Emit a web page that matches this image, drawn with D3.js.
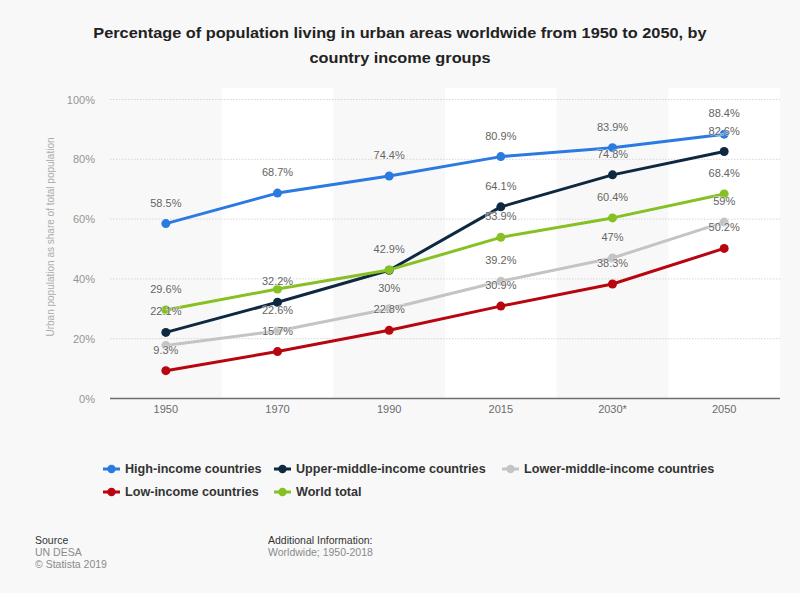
<!DOCTYPE html>
<html>
<head>
<meta charset="utf-8">
<script src="https://cdn.jsdelivr.net/npm/d3@7"></script>
<style>
  html, body { margin: 0; padding: 0; background: #f7f7f7; }
  svg { display: block; }
  text { font-family: "Liberation Sans", Arial, Helvetica, sans-serif; }
</style>
</head>
<body>
<svg id="chart" width="800" height="593"></svg>
<script>
const categories = ["1950", "1970", "1990", "2015", "2030*", "2050"];
const seriesNames = ["High-income countries", "Upper-middle-income countries", "Lower-middle-income countries", "Low-income countries", "World total"];
const highIncome = [58.5, 68.7, 74.4, 80.9, 83.9, 88.4];
const upperMiddleIncome = [22.1, 32.2, 42.9, 64.1, 74.8, 82.6];
const lowerMiddleIncome = [17.7, 22.6, 30, 39.2, 47, 59];
const lowIncome = [9.3, 15.7, 22.8, 30.9, 38.3, 50.2];
const worldTotal = [29.6, 36.6, 43, 53.9, 60.4, 68.4];
const yTicks = [0, 20, 40, 60, 80, 100];
// labels not shown in the original (hidden due to overlap)
const hiddenLabels = [["Lower-middle-income countries", "1950"], ["World total", "1970"], ["World total", "1990"]];

const seriesValues = [highIncome, upperMiddleIncome, lowerMiddleIncome, lowIncome, worldTotal];
const colors = ["#2a7ae2", "#0e2840", "#c4c4c4", "#b8050f", "#86c022"];

const svg = d3.select("#chart");
const W = 800, H = 593;
const plot = { left: 110, right: 780, top: 99.5, bottom: 398.5 };

svg.append("rect").attr("width", W).attr("height", H).attr("fill", "#f8f8f8");

const x = d3.scaleBand().domain(categories).range([plot.left, plot.right]).padding(0);
const y = d3.scaleLinear().domain([0, 100]).range([plot.bottom, plot.top]);

// alternating bands
svg.append("g").selectAll("rect")
  .data(categories.filter((d, i) => i % 2 === 1))
  .join("rect")
  .attr("x", d => x(d))
  .attr("y", 88)
  .attr("width", x.bandwidth())
  .attr("height", plot.bottom - 88)
  .attr("fill", "#ffffff");

// gridlines
svg.append("g").selectAll("line")
  .data(yTicks.filter(t => t > 0))
  .join("line")
  .attr("x1", plot.left).attr("x2", plot.right)
  .attr("y1", d => y(d)).attr("y2", d => y(d))
  .attr("stroke", "#d6d6d6").attr("stroke-width", 1)
  .attr("stroke-dasharray", "1.5,1.5");

// y axis labels
const yAxis = d3.axisLeft(y).tickValues(yTicks).tickFormat(d => d + "%").tickSize(0).tickPadding(0);
const yg = svg.append("g").attr("transform", `translate(95,0)`).call(yAxis);
yg.select(".domain").remove();
yg.selectAll("text").attr("fill", "#959595").attr("font-size", "11px")
  .attr("font-family", "Liberation Sans, Arial, sans-serif");

// x axis
const xAxis = d3.axisBottom(x).tickSize(0).tickPadding(0);
const xg = svg.append("g").attr("transform", `translate(0,${plot.bottom})`).call(xAxis);
xg.select(".domain").remove();
xg.selectAll("text").attr("fill", "#6b6b6b").attr("font-size", "11px").attr("dy", "1.35em")
  .attr("font-family", "Liberation Sans, Arial, sans-serif");

// baseline
svg.append("line")
  .attr("x1", plot.left).attr("x2", plot.right)
  .attr("y1", plot.bottom).attr("y2", plot.bottom)
  .attr("stroke", "#6e6e6e").attr("stroke-width", 1.6);

// y axis title
svg.append("text")
  .attr("transform", `translate(51,${(plot.top + plot.bottom) / 2 - 12}) rotate(-90)`)
  .attr("text-anchor", "middle")
  .attr("dominant-baseline", "middle")
  .attr("fill", "#ababab").attr("font-size", "10px")
  .text("Urban population as share of total population");

// lines
const cx = c => x(c) + x.bandwidth() / 2;
const line = d3.line().x((d, i) => cx(categories[i])).y(d => y(d));
const gLines = svg.append("g");
seriesValues.forEach((vals, si) => {
  const g = gLines.append("g");
  g.append("path").datum(vals).attr("d", line)
    .attr("fill", "none").attr("stroke", colors[si]).attr("stroke-width", 3)
    .attr("stroke-linejoin", "round").attr("stroke-linecap", "round");
  g.selectAll("circle").data(vals).join("circle")
    .attr("cx", (d, i) => cx(categories[i])).attr("cy", d => y(d))
    .attr("r", 4.5).attr("fill", colors[si]);
});

// data labels
const isHidden = (s, c) => hiddenLabels.some(h => h[0] === s && h[1] === c);
const gLabels = svg.append("g");
seriesValues.forEach((vals, si) => {
  vals.forEach((v, i) => {
    if (isHidden(seriesNames[si], categories[i])) return;
    gLabels.append("text")
      .attr("x", cx(categories[i]))
      .attr("y", y(v) - 17)
      .attr("text-anchor", "middle")
      .attr("font-size", "11px")
      .attr("fill", "#636363")
      .attr("stroke", "#ffffff").attr("stroke-width", 1.2).attr("stroke-opacity", 0.7)
      .attr("paint-order", "stroke")
      .text(d3.format("")(v) + "%");
  });
});

// title
const titleLines = ["Percentage of population living in urban areas worldwide from 1950 to 2050, by", "country income groups"];
const tg = svg.append("g");
const t1 = tg.append("text").attr("x", 400).attr("y", 38).attr("text-anchor", "middle")
  .attr("font-size", "15px").attr("font-weight", "bold").attr("fill", "#222").text(titleLines[0]);
const w1 = t1.node().getComputedTextLength();
const target = 614;
const sx = target / w1;
t1.attr("transform", `translate(400,0) scale(${sx},1) translate(-400,0)`);
tg.append("text").attr("x", 400).attr("y", 63).attr("text-anchor", "middle")
  .attr("font-size", "15px").attr("font-weight", "bold").attr("fill", "#222")
  .attr("transform", `translate(400,0) scale(${sx},1) translate(-400,0)`)
  .text(titleLines[1]);

// legend
const legendPos = [[103, 469], [274, 469], [502, 469], [103, 492], [274, 492]];
const lg = svg.append("g");
seriesNames.forEach((name, si) => {
  const [lx, ly] = legendPos[si];
  const g = lg.append("g").attr("transform", `translate(${lx},${ly})`);
  g.append("line").attr("x1", 0).attr("x2", 17).attr("y1", 0).attr("y2", 0)
    .attr("stroke", colors[si]).attr("stroke-width", 3);
  g.append("circle").attr("cx", 8.5).attr("cy", 0).attr("r", 4.2).attr("fill", colors[si]);
  g.append("text").attr("x", 22).attr("y", 0).attr("dy", "0.35em")
    .attr("font-size", "12.6px").attr("font-weight", "bold").attr("fill", "#333")
    .text(name);
});

// footer
const foot = svg.append("g").attr("font-size", "10.5px");
foot.append("text").attr("x", 35).attr("y", 544).attr("fill", "#333").text("Source");
foot.append("text").attr("x", 35).attr("y", 556).attr("fill", "#8a8a8a").text("UN DESA");
foot.append("text").attr("x", 35).attr("y", 568).attr("fill", "#8a8a8a").text("© Statista 2019");
foot.append("text").attr("x", 268).attr("y", 544).attr("fill", "#333").text("Additional Information:");
foot.append("text").attr("x", 268).attr("y", 556).attr("fill", "#8a8a8a").text("Worldwide; 1950-2018");
</script>
</body>
</html>
